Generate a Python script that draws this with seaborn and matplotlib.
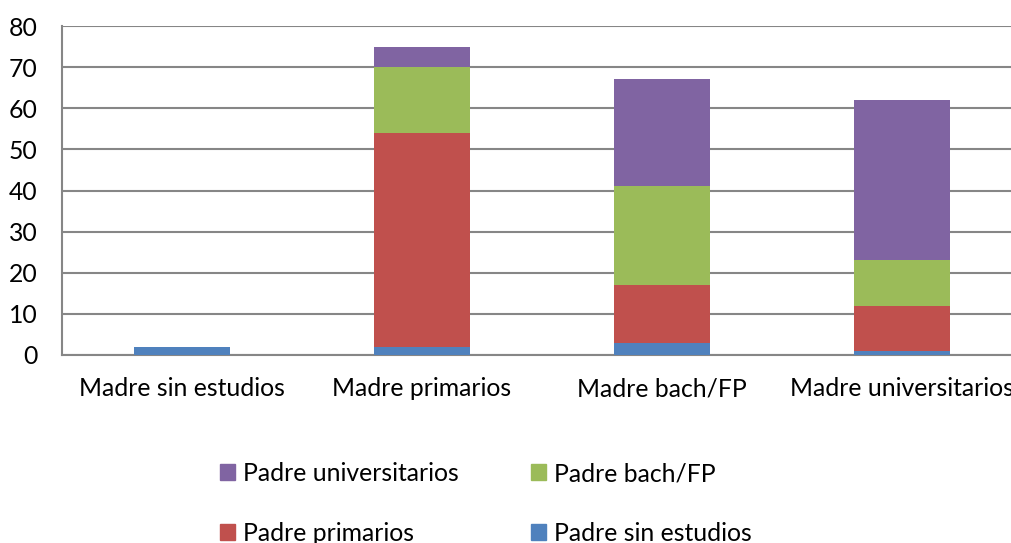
import numpy as np
import pandas as pd
import seaborn as sns
import matplotlib.pyplot as plt
from matplotlib.patches import Patch

categorias = ["Madre sin estudios", "Madre primarios", "Madre bach/FP", "Madre universitarios"]
padre_sin_estudios = [2, 2, 3, 1]
padre_primarios = [0, 52, 14, 11]
padre_bach_fp = [0, 16, 24, 11]
padre_universitarios = [0, 5, 26, 39]

series = ["Padre sin estudios", "Padre primarios", "Padre bach/FP", "Padre universitarios"]
colores = ["#4F81BD", "#C0504D", "#9BBB59", "#8064A2"]

df = pd.DataFrame({
    "Madre": categorias,
    "Padre sin estudios": padre_sin_estudios,
    "Padre primarios": padre_primarios,
    "Padre bach/FP": padre_bach_fp,
    "Padre universitarios": padre_universitarios,
})

# acumulados para apilar (se dibuja del total hacia abajo)
acum = df[series].cumsum(axis=1)

sns.set_style("white")
plt.rcParams["font.family"] = ["Lato", "DejaVu Sans"]
plt.rcParams["text.color"] = "black"
fs = 17.8

fig = plt.figure(figsize=(10.11, 5.43), dpi=100)
ax = fig.add_axes([62 / 1011, 1 - 355 / 543, 960 / 1011, 329 / 543])

for s, c in reversed(list(zip(series, colores))):
    sns.barplot(x=df["Madre"], y=acum[s], color=c, width=0.4,
                linewidth=0, saturation=1, ax=ax, zorder=3)

ax.set_ylim(0, 80)
ax.set_xlim(-0.5, 3.5)
ax.set_yticks(range(0, 81, 10))
ax.yaxis.grid(True, color="#868686", linewidth=1.5, zorder=0)
ax.set_axisbelow(True)
ax.set_xlabel("")
ax.set_ylabel("")

for sp in ["top", "right"]:
    ax.spines[sp].set_visible(False)
for sp in ["left", "bottom"]:
    ax.spines[sp].set_color("#868686")
    ax.spines[sp].set_linewidth(1.5)

# marcas entre categorias
ax.set_xticks([-0.5, 0.5, 1.5, 2.5], minor=True)
ax.tick_params(axis="x", which="minor", length=6, width=1.5, color="#868686", direction="out")
ax.tick_params(axis="x", which="major", length=0, pad=16, labelsize=fs, labelcolor="black")
ax.tick_params(axis="y", length=6.5, width=1.5, color="#868686", labelsize=fs,
               labelcolor="black", pad=11)
ax.set_xticklabels(categorias)

handles = [Patch(color=colores[3]), Patch(color=colores[1]),
           Patch(color=colores[2]), Patch(color=colores[0])]
labels = ["Padre universitarios", "Padre primarios", "Padre bach/FP", "Padre sin estudios"]
fig.legend(handles, labels, ncol=2, frameon=False, fontsize=fs,
           loc="upper left", bbox_to_anchor=(220 / 1011, 1 - 462 / 543),
           borderpad=0, borderaxespad=0,
           handlelength=0.6, handleheight=0.6, handletextpad=0.32,
           columnspacing=2.95, labelspacing=1.49)

fig.savefig("out.png", dpi=100)
